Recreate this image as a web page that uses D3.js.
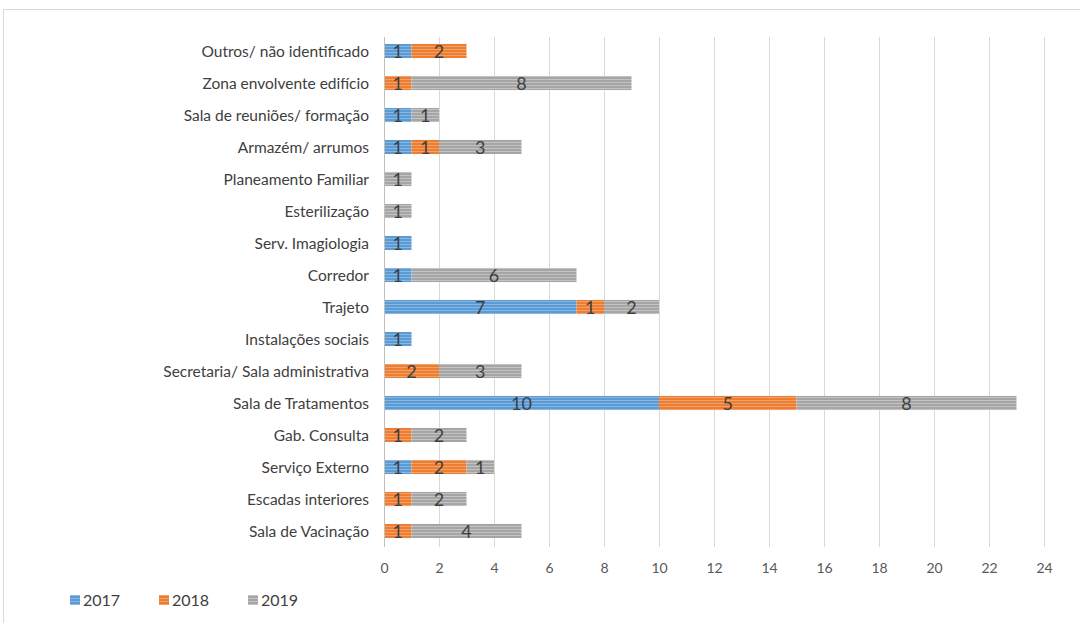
<!DOCTYPE html>
<html><head><meta charset="utf-8">
<script src="https://cdn.jsdelivr.net/npm/d3@7"></script>
<style>body{margin:0;background:#fff}svg{display:block}</style>
</head><body>
<svg id="c" width="1080" height="623"></svg>
<script>
const categories = ["Outros/ não identificado","Zona envolvente edifício","Sala de reuniões/ formação","Armazém/ arrumos","Planeamento Familiar","Esterilização","Serv. Imagiologia","Corredor","Trajeto","Instalações sociais","Secretaria/ Sala administrativa","Sala de Tratamentos","Gab. Consulta","Serviço Externo","Escadas interiores","Sala de Vacinação"];
const seriesNames = ["2017","2018","2019"];
const v2017 = [1,0,1,1,0,0,1,1,7,1,0,10,0,1,0,0];
const v2018 = [2,1,0,1,0,0,0,0,1,0,2,5,1,2,1,1];
const v2019 = [0,8,1,3,1,1,0,6,2,0,3,8,2,1,2,4];
const ticks = [0,2,4,6,8,10,12,14,16,18,20,22,24];
const colors = ["#5b9bd5","#ed7d31","#a5a5a5"];
const lightColors = ["#9dc3e6","#f4b183","#d0d0d0"];
const FONT = "Lato, 'Open Sans', sans-serif";

const rows = categories.map((c,i)=>({cat:c,"2017":v2017[i],"2018":v2018[i],"2019":v2019[i]}));
const stack = d3.stack().keys(seriesNames)(rows);

const svg = d3.select("#c");
const defs = svg.append("defs");
colors.forEach((col,i)=>{
  const p = defs.append("pattern").attr("id","pat"+i).attr("patternUnits","userSpaceOnUse")
    .attr("width",4).attr("height",3);
  p.append("rect").attr("width",4).attr("height",3).attr("fill",col);
  p.append("rect").attr("y",1).attr("width",4).attr("height",1).attr("fill",lightColors[i]).attr("opacity",0.7);
});

// outer border
svg.append("rect").attr("x",3.5).attr("y",9.5).attr("width",1090).attr("height",620)
  .attr("fill","none").attr("stroke","#d9d9d9");

const x = d3.scaleLinear().domain([0,24]).range([384,1044]);
const y = d3.scaleBand().domain(categories).range([35,547]).paddingInner(0.56).paddingOuter(0.28);

// gridlines
svg.append("g").selectAll("line").data(ticks.filter(t=>t>0)).join("line")
  .attr("x1",d=>x(d)+0.5).attr("x2",d=>x(d)+0.5).attr("y1",37).attr("y2",547)
  .attr("stroke","#d9d9d9").attr("stroke-width",1);

// bars
const gS = svg.append("g").selectAll("g").data(stack).join("g")
  .attr("fill",(d,i)=>`url(#pat${i})`);
gS.selectAll("rect").data(d=>d).join("rect")
  .attr("x",d=>x(d[0])).attr("width",d=>x(d[1])-x(d[0]))
  .attr("y",d=>y(d.data.cat)).attr("height",y.bandwidth());

// value labels
stack.forEach((s)=>{
  svg.append("g").selectAll("text").data(s.filter(d=>d[1]-d[0]>0)).join("text")
    .attr("x",d=>(x(d[0])+x(d[1]))/2).attr("y",d=>y(d.data.cat)+y.bandwidth()/2)
    .attr("dy","0.38em").attr("text-anchor","middle")
    .attr("font-family",FONT).attr("font-size",18)
    .attr("fill","#404040").text(d=>d[1]-d[0]);
});

// y axis line
svg.append("line").attr("x1",384.5).attr("x2",384.5).attr("y1",37).attr("y2",547)
  .attr("stroke","#bfbfbf");

// category labels
svg.append("g").selectAll("text").data(categories).join("text")
  .attr("x",369).attr("y",d=>y(d)+y.bandwidth()/2).attr("dy","0.38em")
  .attr("text-anchor","end").attr("font-family",FONT).attr("font-size",15.5)
  .attr("fill","#404040").text(d=>d);

// x tick labels
const xAxis = d3.axisBottom(x).tickValues(ticks).tickSize(0).tickPadding(0);
const gx = svg.append("g").attr("transform","translate(0,563)").call(xAxis);
gx.select(".domain").remove();
gx.selectAll("text").attr("font-family",FONT).attr("font-size",14)
  .attr("fill","#595959");

// legend
const leg = svg.append("g").attr("transform","translate(70,600)");
seriesNames.forEach((n,i)=>{
  const g = leg.append("g").attr("transform",`translate(${i*89},0)`);
  g.append("rect").attr("x",0).attr("y",-5).attr("width",10).attr("height",10).attr("fill",`url(#pat${i})`);
  g.append("text").attr("x",13).attr("y",0).attr("dy","0.36em")
    .attr("font-family",FONT).attr("font-size",16).attr("fill","#404040").text(n);
});
</script>
</body></html>
